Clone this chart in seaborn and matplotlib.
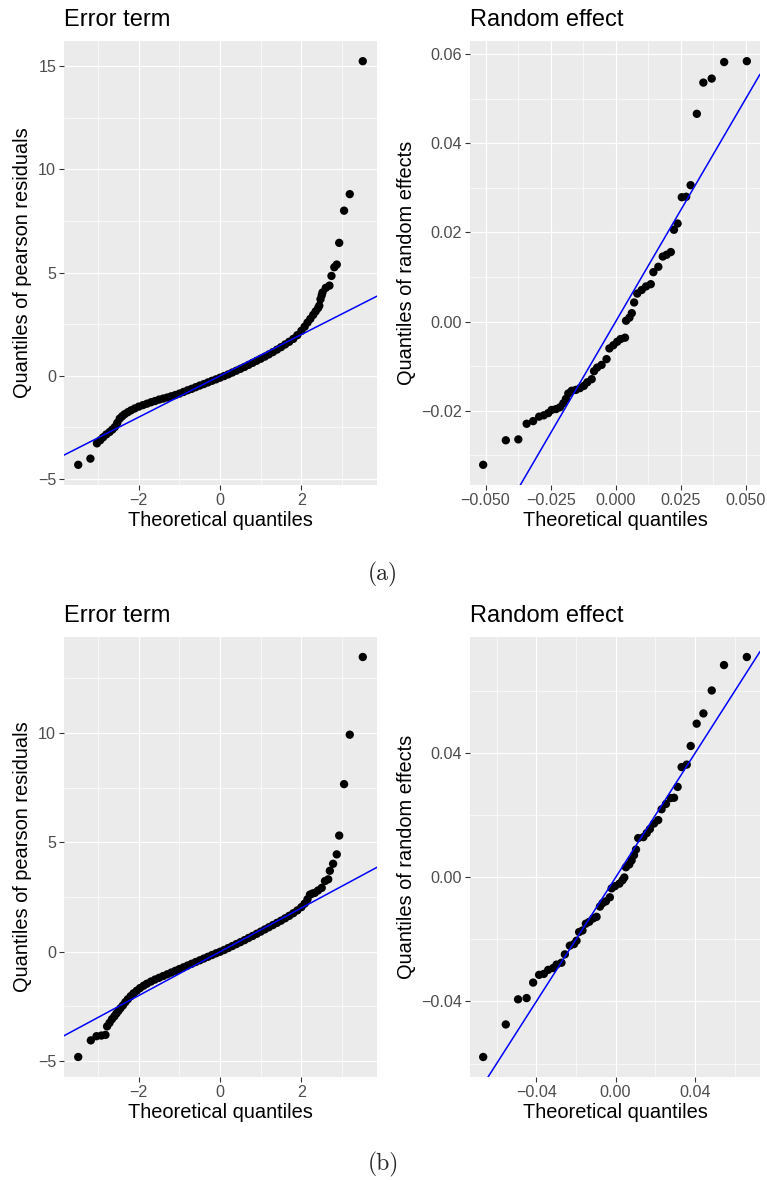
import numpy as np
import pandas as pd
import matplotlib
matplotlib.use("Agg")
import matplotlib.pyplot as plt
import seaborn as sns
from matplotlib.ticker import FixedLocator, FixedFormatter

# ---------------- data ----------------
err_a_theo = [-3.49, -3.19, -3.03, -2.95, -2.88, -2.80, -2.72, -2.65, -2.59, -2.53,
              -2.47, -2.41, -2.35, -2.27, -2.19, -2.10, -2.00, -1.90, -1.80, -1.70,
              -1.60, -1.50, -1.40, -1.30, -1.20, -1.10, -1.00, -0.90, -0.80, -0.70,
              -0.60, -0.50, -0.40, -0.30, -0.20, -0.10, 0.00, 0.10, 0.20, 0.30,
              0.40, 0.50, 0.60, 0.70, 0.80, 0.90, 1.00, 1.10, 1.20, 1.30,
              1.40, 1.50, 1.60, 1.70, 1.80, 1.90, 2.00, 2.08, 2.15, 2.22,
              2.29, 2.35, 2.41, 2.44, 2.47, 2.50, 2.52, 2.60, 2.69, 2.74,
              2.81, 2.87, 2.93, 3.05, 3.19, 3.51]
err_a_samp = [-4.31, -4.01, -3.27, -3.12, -2.98, -2.84, -2.72, -2.60, -2.48, -2.28,
              -2.07, -1.96, -1.86, -1.76, -1.67, -1.58, -1.49, -1.42, -1.35, -1.28,
              -1.22, -1.15, -1.10, -1.05, -0.99, -0.93, -0.86, -0.78, -0.70, -0.63,
              -0.55, -0.47, -0.40, -0.32, -0.24, -0.17, -0.09, -0.01, 0.07, 0.16,
              0.25, 0.34, 0.43, 0.53, 0.63, 0.73, 0.83, 0.93, 1.04, 1.15,
              1.27, 1.39, 1.52, 1.65, 1.79, 1.97, 2.18, 2.38, 2.58, 2.76,
              2.95, 3.12, 3.28, 3.40, 3.71, 3.90, 4.04, 4.26, 4.37, 4.84,
              5.26, 5.39, 6.44, 8.00, 8.80, 15.24]

re_a_theo = [-0.0509, -0.0422, -0.0374, -0.0342, -0.0317, -0.0294, -0.0276, -0.0259, -0.0246, -0.0229,
             -0.0214, -0.0201, -0.0191, -0.0182, -0.0169, -0.0153, -0.0137, -0.0122, -0.0109, -0.0092,
             -0.0083, -0.0071, -0.0054, -0.0035, -0.0024, -0.0009, 0.0006, 0.0019, 0.0036, 0.0040,
             0.0053, 0.0062, 0.0071, 0.0083, 0.0100, 0.0117, 0.0135, 0.0145, 0.0164, 0.0181,
             0.0196, 0.0212, 0.0224, 0.0238, 0.0254, 0.0271, 0.0288, 0.0312, 0.0337, 0.0369,
             0.0417, 0.0504]
re_a_samp = [-0.0321, -0.0266, -0.0264, -0.0229, -0.0223, -0.0213, -0.0210, -0.0205, -0.0198, -0.0196,
             -0.0192, -0.0183, -0.0173, -0.0161, -0.0155, -0.0153, -0.0149, -0.0144, -0.0136, -0.0129,
             -0.0111, -0.0103, -0.0097, -0.0084, -0.0060, -0.0053, -0.0045, -0.0039, -0.0036, 0.0002,
             0.0009, 0.0019, 0.0043, 0.0063, 0.0071, 0.0079, 0.0084, 0.0111, 0.0123, 0.0146,
             0.0150, 0.0156, 0.0206, 0.0220, 0.0279, 0.0280, 0.0306, 0.0466, 0.0536, 0.0545,
             0.0582, 0.0584]

err_b_theo = [-3.49, -3.18, -3.04, -2.92, -2.82, -2.78, -2.72, -2.66, -2.60, -2.55,
              -2.50, -2.45, -2.39, -2.33, -2.27, -2.20, -2.13, -2.05, -1.97, -1.88,
              -1.80, -1.70, -1.60, -1.50, -1.40, -1.30, -1.20, -1.10, -1.00, -0.90,
              -0.80, -0.70, -0.60, -0.50, -0.40, -0.30, -0.20, -0.10, 0.00, 0.10,
              0.20, 0.30, 0.40, 0.50, 0.60, 0.70, 0.80, 0.90, 1.00, 1.10,
              1.20, 1.30, 1.40, 1.50, 1.60, 1.70, 1.80, 1.90, 2.00, 2.08,
              2.15, 2.21, 2.27, 2.33, 2.41, 2.50, 2.58, 2.66, 2.70, 2.78,
              2.87, 2.93, 3.05, 3.19, 3.51]
err_b_samp = [-4.81, -4.05, -3.86, -3.83, -3.80, -3.41, -3.25, -3.08, -2.95, -2.82,
              -2.70, -2.58, -2.45, -2.30, -2.17, -2.03, -1.90, -1.78, -1.66, -1.55,
              -1.46, -1.36, -1.27, -1.19, -1.11, -1.03, -0.95, -0.87, -0.79, -0.71,
              -0.63, -0.55, -0.47, -0.39, -0.31, -0.23, -0.15, -0.07, 0.00, 0.08,
              0.17, 0.26, 0.35, 0.44, 0.53, 0.63, 0.72, 0.82, 0.92, 1.02,
              1.12, 1.22, 1.32, 1.42, 1.53, 1.64, 1.76, 1.89, 2.04, 2.20,
              2.40, 2.61, 2.66, 2.69, 2.80, 2.92, 3.23, 3.31, 3.70, 4.02,
              4.45, 5.31, 7.66, 9.92, 13.47]

re_b_theo = [-0.0668, -0.0554, -0.0492, -0.0449, -0.0416, -0.0386, -0.0362, -0.0340, -0.0315, -0.0298,
             -0.0273, -0.0256, -0.0231, -0.0210, -0.0197, -0.0184, -0.0167, -0.0150, -0.0133, -0.0113,
             -0.0096, -0.0079, -0.0066, -0.0049, -0.0029, -0.0020, -0.0003, 0.0019, 0.0035, 0.0044,
             0.0052, 0.0069, 0.0081, 0.0093, 0.0103, 0.0114, 0.0140, 0.0157, 0.0173, 0.0194,
             0.0215, 0.0232, 0.0254, 0.0278, 0.0295, 0.0313, 0.0333, 0.0359, 0.0379, 0.0409,
             0.0443, 0.0485, 0.0547, 0.0662]
re_b_samp = [-0.0579, -0.0474, -0.0393, -0.0389, -0.0339, -0.0314, -0.0311, -0.0298, -0.0292, -0.0281,
             -0.0275, -0.0248, -0.0220, -0.0215, -0.0204, -0.0176, -0.0171, -0.0149, -0.0143, -0.0132,
             -0.0127, -0.0094, -0.0083, -0.0077, -0.0064, -0.0035, -0.0028, -0.0020, -0.0009, 0.0000,
             0.0033, 0.0042, 0.0055, 0.0072, 0.0090, 0.0127, 0.0130, 0.0143, 0.0156, 0.0174,
             0.0185, 0.0220, 0.0237, 0.0256, 0.0257, 0.0292, 0.0356, 0.0364, 0.0424, 0.0496,
             0.0529, 0.0603, 0.0685, 0.0711]

err_x_major = [-2, 0, 2]
err_x_labels = ["\u22122", "0", "2"]
err_x_minor = [-3, -1, 1, 3]
err_a_y_major = [-5, 0, 5, 10, 15]
err_a_y_labels = ["\u22125", "0", "5", "10", "15"]
err_b_y_major = [-5, 0, 5, 10]
err_b_y_labels = ["\u22125", "0", "5", "10"]
err_y_minor = [-2.5, 2.5, 7.5, 12.5]

re_a_x_major = [-0.05, -0.025, 0.0, 0.025, 0.05]
re_a_x_labels = ["\u22120.050", "\u22120.025", "0.000", "0.025", "0.050"]
re_a_x_minor = [-0.0375, -0.0125, 0.0125, 0.0375]
re_a_y_major = [-0.02, 0.0, 0.02, 0.04, 0.06]
re_a_y_labels = ["\u22120.02", "0.00", "0.02", "0.04", "0.06"]
re_a_y_minor = [-0.03, -0.01, 0.01, 0.03, 0.05]

re_b_major = [-0.04, 0.0, 0.04]
re_b_labels = ["\u22120.04", "0.00", "0.04"]
re_b_minor = [-0.06, -0.02, 0.02, 0.06]

# ---------------- style ----------------
sns.set_theme(style="darkgrid", rc={
    "axes.facecolor": "#EBEBEB",
    "grid.color": "white",
    "axes.edgecolor": "none",
    "xtick.bottom": True,
    "ytick.left": True,
})
plt.rcParams["font.family"] = ["Liberation Sans", "DejaVu Sans"]

W, H = 767, 1180
fig = plt.figure(figsize=(W / 100, H / 100), dpi=100)


def px_axes(x0, y0, x1, y1):
    return fig.add_axes([x0 / W, 1 - y1 / H, (x1 - x0) / W, (y1 - y0) / H])


def style_ax(ax, xt, xl, xm, yt, yl, ym, title, ylabel):
    ax.set_facecolor("#EBEBEB")
    for s in ax.spines.values():
        s.set_visible(False)
    ax.xaxis.set_major_locator(FixedLocator(xt))
    ax.xaxis.set_major_formatter(FixedFormatter(xl))
    ax.xaxis.set_minor_locator(FixedLocator(xm))
    ax.yaxis.set_major_locator(FixedLocator(yt))
    ax.yaxis.set_major_formatter(FixedFormatter(yl))
    ax.yaxis.set_minor_locator(FixedLocator(ym))
    ax.grid(which="major", color="white", linewidth=0.85)
    ax.grid(which="minor", color="white", linewidth=0.45)
    ax.set_axisbelow(True)
    ax.tick_params(which="major", length=3.4, width=0.8, color="#333333",
                   labelcolor="#4D4D4D", labelsize=11.6, pad=2.2)
    ax.tick_params(which="minor", length=0)
    ax.set_xlabel("Theoretical quantiles", fontsize=14.4, color="black", labelpad=2.5)
    ax.set_ylabel(ylabel, fontsize=14.4, color="black", labelpad=4)
    ax.set_title(title, loc="left", fontsize=17, color="black", pad=11)


def limits(ax, xs, ys):
    xr = max(xs) - min(xs)
    yr = max(ys) - min(ys)
    ax.set_xlim(min(xs) - 0.05 * xr, max(xs) + 0.05 * xr)
    ax.set_ylim(min(ys) - 0.05 * yr, max(ys) + 0.05 * yr)


panels = [
    ((64, 41, 377, 485), err_a_theo, err_a_samp, err_x_major, err_x_labels, err_x_minor,
     err_a_y_major, err_a_y_labels, err_y_minor, "Error term", "Quantiles of pearson residuals"),
    ((470, 41, 760, 485), re_a_theo, re_a_samp, re_a_x_major, re_a_x_labels, re_a_x_minor,
     re_a_y_major, re_a_y_labels, re_a_y_minor, "Random effect", "Quantiles of random effects"),
    ((64, 637, 377, 1077), err_b_theo, err_b_samp, err_x_major, err_x_labels, err_x_minor,
     err_b_y_major, err_b_y_labels, err_y_minor, "Error term", "Quantiles of pearson residuals"),
    ((470, 637, 760, 1077), re_b_theo, re_b_samp, re_b_major, re_b_labels, re_b_minor,
     re_b_major, re_b_labels, re_b_minor, "Random effect", "Quantiles of random effects"),
]

for box, xs, ys, xt, xl, xm, yt, yl, ym, title, ylabel in panels:
    ax = px_axes(*box)
    df = pd.DataFrame({"theo": xs, "samp": ys})
    sns.scatterplot(data=df, x="theo", y="samp", ax=ax, color="black", s=36,
                    linewidth=0, edgecolor="none", zorder=3)
    limits(ax, xs, ys)
    ax.axline((0, 0), slope=1, color="#0000FF", linewidth=1.1, zorder=4)
    style_ax(ax, xt, xl, xm, yt, yl, ym, title, ylabel)

fig.text(383 / W, 1 - 574 / H, "(a)", ha="center", va="center", fontsize=17, family="cmr10")
fig.text(383 / W, 1 - 1164 / H, "(b)", ha="center", va="center", fontsize=17, family="cmr10")

fig.savefig("out.png", dpi=100)
